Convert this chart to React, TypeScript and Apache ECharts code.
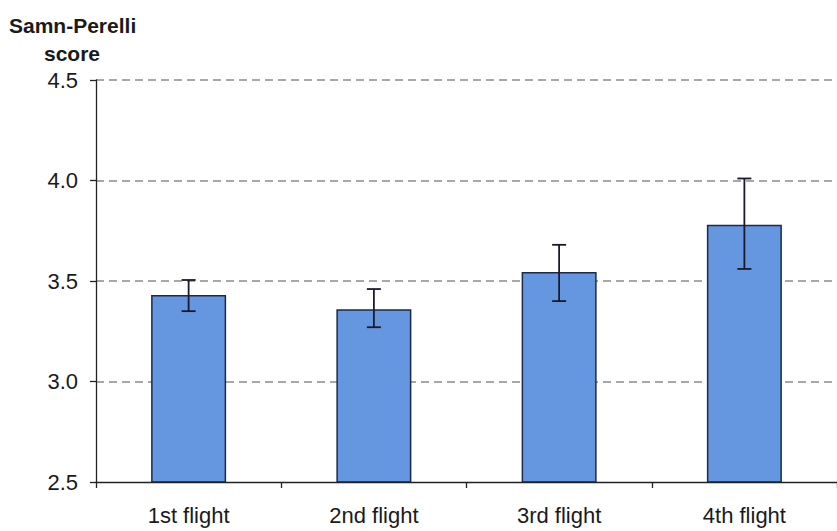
import { useEffect, useRef } from "react";
import * as echarts from "echarts";

// Mean Samn-Perelli fatigue score per flight, with error-bar limits
const categories = ["1st flight", "2nd flight", "3rd flight", "4th flight"];
const meanScores = [3.43, 3.36, 3.545, 3.78];
const errorLow = [3.35, 3.27, 3.4, 3.56];
const errorHigh = [3.505, 3.46, 3.68, 4.01];

const yMin = 2.5;
const yMax = 4.5;
const yStep = 0.5;
const yTitleLines = ["Samn-Perelli", "score"];

const FONT = "'Liberation Sans', Arial, Helvetica, sans-serif";

export default function App() {
  const ref = useRef<HTMLDivElement>(null);

  useEffect(() => {
    if (!ref.current) return;
    const chart = echarts.init(ref.current, undefined, { renderer: "svg" });

    const errorData = categories.map((_, i) => [i, errorLow[i], errorHigh[i]]);

    chart.setOption({
      animation: false,
      backgroundColor: "#ffffff",
      grid: { left: 96, top: 80, width: 750, height: 402, containLabel: false },
      graphic: [
        {
          type: "text",
          left: 9,
          top: 15,
          style: {
            text: yTitleLines[0],
            font: `bold 21px ${FONT}`,
            fill: "#1a1a1a",
          },
        },
        {
          type: "text",
          left: 44,
          top: 43,
          style: {
            text: yTitleLines[1],
            font: `bold 21px ${FONT}`,
            fill: "#1a1a1a",
          },
        },
      ],
      xAxis: {
        type: "category",
        data: categories,
        boundaryGap: true,
        z: 3,
        axisLine: { show: true, lineStyle: { color: "#222", width: 1.3 } },
        axisTick: { show: true, alignWithLabel: false, length: 6, lineStyle: { color: "#222", width: 1.3 } },
        axisLabel: { color: "#1a1a1a", fontSize: 22, fontFamily: FONT, margin: 22 },
        splitLine: { show: false },
      },
      yAxis: {
        type: "value",
        min: yMin,
        max: yMax,
        interval: yStep,
        axisLine: { show: true, lineStyle: { color: "#222", width: 1.3 } },
        axisTick: { show: true, length: 6, lineStyle: { color: "#222", width: 1.3 } },
        axisLabel: {
          color: "#1a1a1a",
          fontSize: 22,
          fontFamily: FONT,
          margin: 18,
          formatter: (v: number) => v.toFixed(1),
        },
        splitLine: {
          show: true,
          showMinLine: false,
          lineStyle: { color: "#8c8c8c", width: 1.5, type: [8, 5] },
        },
      },
      series: [
        {
          type: "bar",
          data: meanScores,
          barWidth: 75,
          itemStyle: { color: "#6596e0", borderColor: "#1c2a48", borderWidth: 1.5 },
          z: 2,
        },
        {
          type: "custom",
          data: errorData,
          z: 5,
          renderItem: (_params: any, api: any) => {
            const idx = api.value(0);
            const lo = api.coord([idx, api.value(1)]);
            const hi = api.coord([idx, api.value(2)]);
            const half = 7;
            const style = { stroke: "#1a1a2a", lineWidth: 1.8 };
            return {
              type: "group",
              children: [
                { type: "line", shape: { x1: hi[0], y1: hi[1], x2: lo[0], y2: lo[1] }, style },
                { type: "line", shape: { x1: hi[0] - half, y1: hi[1], x2: hi[0] + half, y2: hi[1] }, style },
                { type: "line", shape: { x1: lo[0] - half, y1: lo[1], x2: lo[0] + half, y2: lo[1] }, style },
              ],
            };
          },
        },
      ],
    });

    return () => chart.dispose();
  }, []);

  return (
    <div
      ref={ref}
      style={{ position: "fixed", left: 0, top: 0, width: 837, height: 531, background: "#fff" }}
    />
  );
}
